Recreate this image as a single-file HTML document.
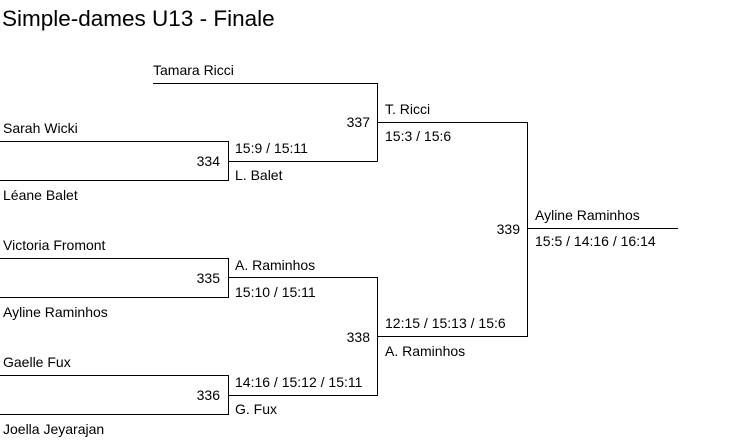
<!DOCTYPE html>
<html><head><style>
html,body{margin:0;padding:0;background:#fff;}
svg{display:block;}
text{font-family:"Liberation Sans",Arial,sans-serif;font-size:14px;fill:#000;}
.t{font-size:22.5px;}
</style></head><body>
<svg width="753" height="446" xmlns="http://www.w3.org/2000/svg">
<text class="t" x="2" y="26">Simple-dames U13 - Finale</text>
<g stroke="#000" stroke-width="1" fill="none" shape-rendering="crispEdges">
<path d="M153 83.5H377.5V161.5"/>
<path d="M0 141.5H228.5V180.5H0"/>
<path d="M228 161.5H377.5"/>
<path d="M377 122.5H527.5V336.5H377"/>
<path d="M0 258.5H228.5V297.5H0"/>
<path d="M228 277.5H377.5V395.5H228"/>
<path d="M0 375.5H228.5V414.5H0"/>
<path d="M527 228.5H678"/>
</g>
<text x="153" y="75">Tamara Ricci</text>
<text x="3" y="133">Sarah Wicki</text>
<text x="3" y="200">Léane Balet</text>
<text x="220" y="166" text-anchor="end">334</text>
<text x="235" y="153">15:9 / 15:11</text>
<text x="235" y="180">L. Balet</text>
<text x="370" y="127" text-anchor="end">337</text>
<text x="385" y="114">T. Ricci</text>
<text x="385" y="141">15:3 / 15:6</text>
<text x="3" y="250">Victoria Fromont</text>
<text x="3" y="317">Ayline Raminhos</text>
<text x="220" y="283" text-anchor="end">335</text>
<text x="235" y="270">A. Raminhos</text>
<text x="235" y="297">15:10 / 15:11</text>
<text x="3" y="367">Gaelle Fux</text>
<text x="3" y="434">Joella Jeyarajan</text>
<text x="220" y="400" text-anchor="end">336</text>
<text x="235" y="387">14:16 / 15:12 / 15:11</text>
<text x="235" y="414">G. Fux</text>
<text x="370" y="342" text-anchor="end">338</text>
<text x="385" y="328">12:15 / 15:13 / 15:6</text>
<text x="385" y="356">A. Raminhos</text>
<text x="520" y="234" text-anchor="end">339</text>
<text x="535" y="220">Ayline Raminhos</text>
<text x="535" y="246">15:5 / 14:16 / 16:14</text>
</svg>
</body></html>
